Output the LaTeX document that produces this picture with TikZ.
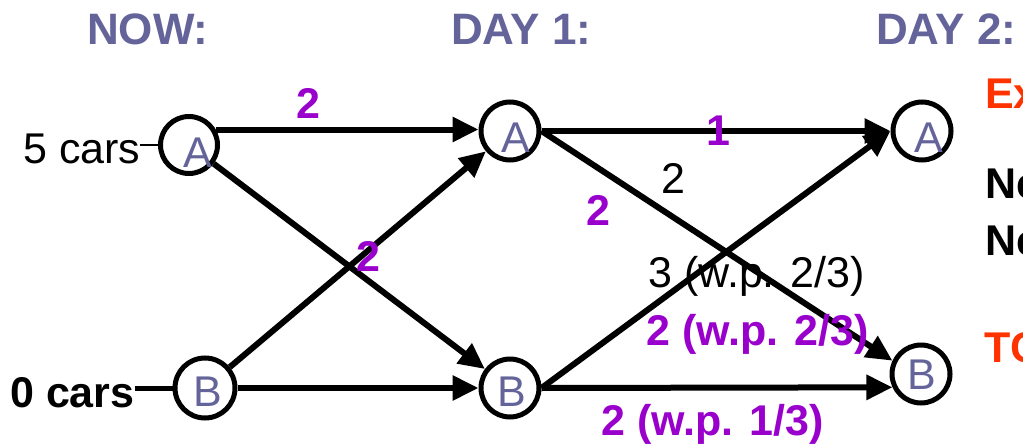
\documentclass[tikz,border=0pt]{standalone}
\usepackage{fontspec}
\setmainfont{Liberation Sans}
\usetikzlibrary{arrows.meta}
\definecolor{slate}{RGB}{100,100,155}
\definecolor{purp}{RGB}{153,0,204}
\definecolor{redd}{RGB}{255,51,0}
\begin{document}
\begin{tikzpicture}[x=1pt,y=-1pt,
  st/.style={circle,draw=black,line width=5pt,minimum size=57pt,inner sep=0pt},
  lett/.style={inner sep=0pt,text=slate,font=\fontsize{43}{50}\selectfont},
  edge/.style={line width=6pt,-{Triangle[length=26pt,width=24pt]}},
  txt/.style={inner sep=0pt,anchor=base west,font=\fontsize{43}{50}\selectfont},
  btxt/.style={inner sep=0pt,anchor=base west,font=\fontsize{43}{50}\selectfont\bfseries},
  htxt/.style={inner sep=0pt,anchor=base west,text=slate,font=\fontsize{44}{50}\selectfont\bfseries}]
\useasboundingbox (0,0) rectangle (1023,444);
\clip (0,0) rectangle (1023,444);
% headers
\node[htxt] (hnow) at (87,45) {NOW:};
\node[htxt] (hday1) at (451,45) {DAY 1:};
\node[htxt] (hday2) at (876,45) {DAY 2:};
% states
\node[st] (nowA) at (189,145) {};
\node[st,minimum size=60pt] (nowB) at (205,388) {};
\node[st,minimum size=58pt] (day1A) at (510,131) {};
\node[st,minimum size=58pt] (day1B) at (510,388) {};
\node[st,minimum size=58pt] (day2A) at (922,131) {};
\node[st,minimum size=58pt] (day2B) at (921,374) {};
\node[lett] (nowAl) at (198,153) {A};
\node[lett] (nowBl) at (208,392) {B};
\node[lett] (day1Al) at (516,138) {A};
\node[lett] (day1Bl) at (512,392) {B};
\node[lett] (day2Al) at (929,138) {A};
\node[lett] (day2Bl) at (922,375) {B};
% car texts
\node[txt] (five) at (23,163) {5 cars};
\node[btxt] (zero) at (10,407) {0 cars};
\draw[line width=2.5pt] (five.east |- nowA) -- (nowA.west);
\draw[line width=5pt] (zero.east |- nowB) -- (nowB.west);
% edges
\draw[edge] (nowA.30) -- (nowA.30 -| day1A.west);
\draw[edge] (nowA) -- (day1B);
\draw[edge] (nowB) -- (day1A);
\draw[edge] (nowB) -- (day1B);
\draw[edge] (day1A) -- (day2A);
\draw[edge] (day1A.east) -- (day2B.155);
\draw[edge] (day1B.east) -- (day2A.west);
\draw[edge] (day1B.east) -- (day2B.205);
% edge labels
\node[btxt,text=purp] (l1) at (296,118) {2};
\node[btxt,text=purp] (l2) at (356,271) {2};
\node[btxt,text=purp,anchor=center] (l3) at (718,131) {1};
\node[txt] (l4) at (661,193) {2};
\node[btxt,text=purp] (l5) at (586,225) {2};
\node[txt] (l6) at (648,287) {3 (w.p. 2/3)};
\node[btxt,text=purp] (l7) at (646,345) {2 (w.p. 2/3)};
\node[btxt,text=purp] (l8) at (601,435) {2 (w.p. 1/3)};
% right side (cut off)
\node[btxt,text=redd] (r1) at (985,108) {Ex};
\node[btxt] (r2) at (985,198) {Ne};
\node[btxt] (r3) at (985,255) {Ne};
\node[btxt,text=redd] (r4) at (984,362) {TC};
\end{tikzpicture}
\end{document}
